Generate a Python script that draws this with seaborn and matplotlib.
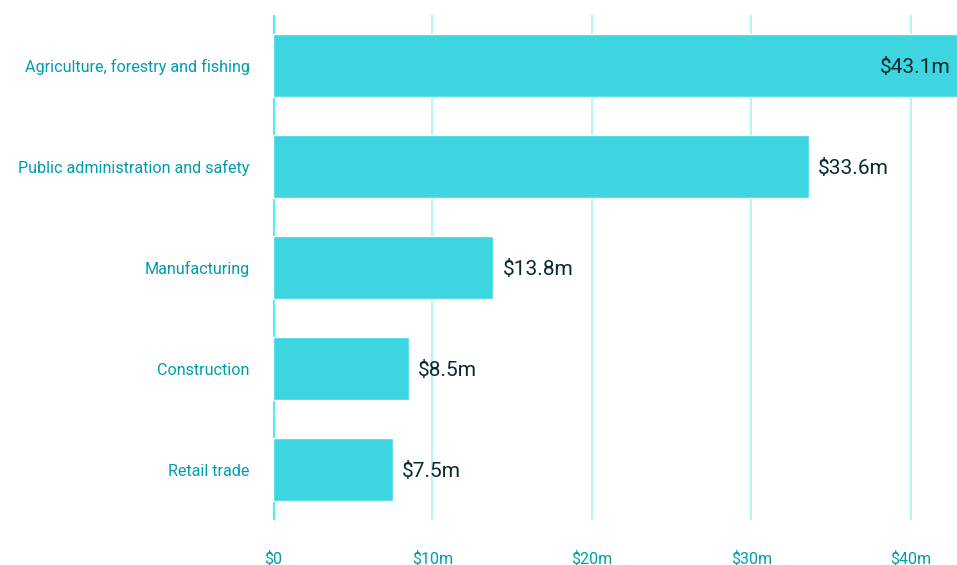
import numpy as np
import pandas as pd
import seaborn as sns
import matplotlib.pyplot as plt

industries = ['Agriculture, forestry and fishing', 'Public administration and safety',
              'Manufacturing', 'Construction', 'Retail trade']
values = [43.1, 33.6, 13.8, 8.5, 7.5]
labels = ['$43.1m', '$33.6m', '$13.8m', '$8.5m', '$7.5m']
ticks = [0, 10, 20, 30, 40]
tick_labels = ['$0', '$10m', '$20m', '$30m', '$40m']

df = pd.DataFrame({'industry': industries, 'value': values})

sns.set_style('white')
plt.rcParams['font.family'] = ['Roboto', 'DejaVu Sans']

fig = plt.figure(figsize=(9.57, 5.65), dpi=100)
ax = fig.add_axes([0.2853, 0.0796, 0.7147, 0.8939])

sns.barplot(data=df, x='value', y='industry', color='#3dd6e0', saturation=1,
            width=0.62, ax=ax, zorder=2)

ax.set_xlim(0, 42.9)
ax.set_ylim(4.5, -0.5)
ax.set_xticks(ticks)
ax.set_xticklabels(tick_labels)
for t in ticks:
    ax.axvline(t, color='#3ff0f8' if t == 0 else '#a8f2f6', lw=2 if t == 0 else 1.2, zorder=1)

for sp in ax.spines.values():
    sp.set_visible(False)
ax.tick_params(axis='x', length=0, pad=22, labelsize=11.5, labelcolor='#009cae')
ax.tick_params(axis='y', length=0, pad=17, labelsize=11.6, labelcolor='#009cae')
ax.set_xlabel('')
ax.set_ylabel('')

for i, (v, lab) in enumerate(zip(values, labels)):
    if v > 40:
        ax.text(42.5, i, lab, ha='right', va='center_baseline', fontsize=15, color='#0a2a2e', zorder=3)
    else:
        ax.text(v + 0.6, i, lab, ha='left', va='center_baseline', fontsize=15, color='#0a2a2e', zorder=3)

fig.savefig('out.png', dpi=100)
